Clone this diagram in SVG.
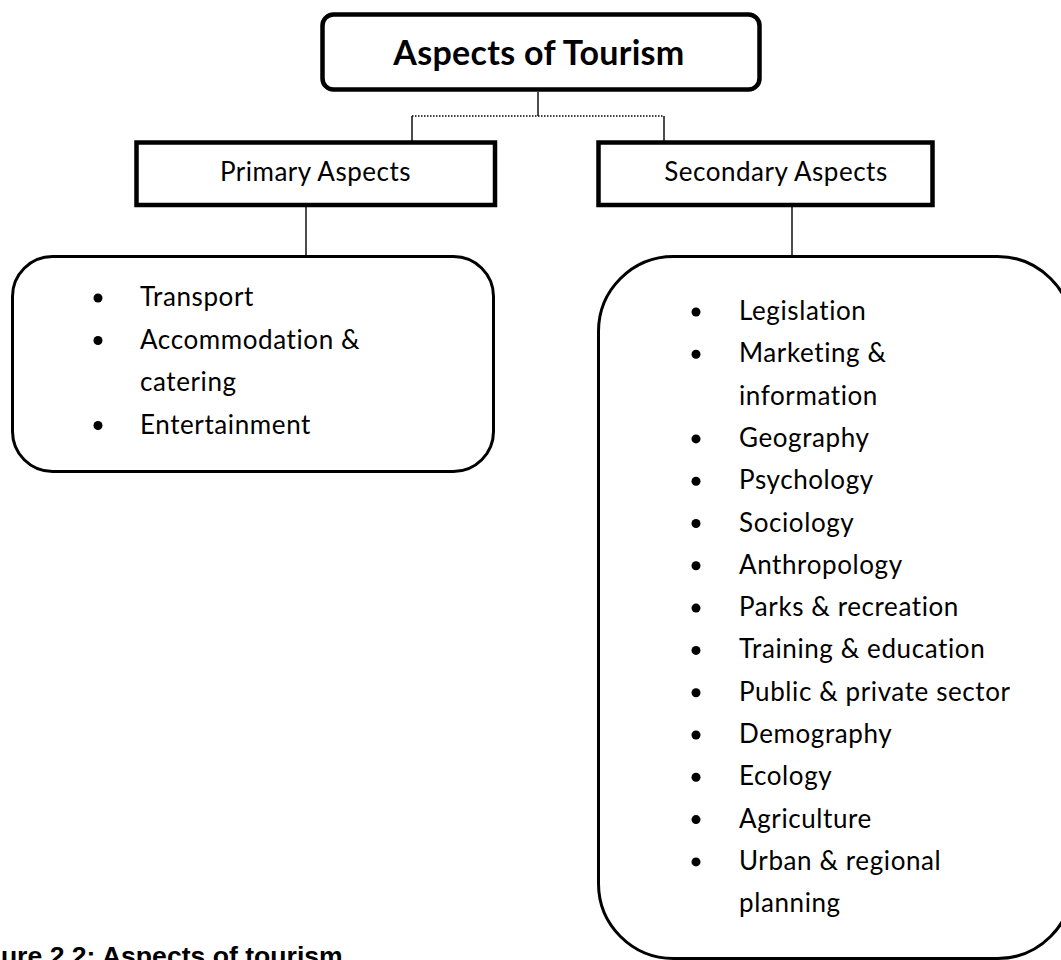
<svg xmlns="http://www.w3.org/2000/svg" width="1061" height="960" viewBox="0 0 1061 960">
<style>
.t{font-family:Lato,"Open Sans","Liberation Sans",sans-serif;fill:#000;font-variant-ligatures:none}
.li{font-size:26px;letter-spacing:0.6px}
.hd{font-size:26px;letter-spacing:0.5px;text-anchor:middle}
.box{fill:#fff;stroke:#000;stroke-width:4.5}
.lst{fill:#fff;stroke:#000;stroke-width:3}
.con{stroke:#000;stroke-width:1.4;fill:none}
.dot{stroke:#000;stroke-width:1.4;fill:none;stroke-dasharray:1.5 1.5}
.cap{font-family:"Liberation Sans",Arial,sans-serif;font-weight:bold;font-size:26.6px;fill:#000}
</style>
<defs><circle id="b" r="4.5" fill="#000"/></defs>
<rect width="1061" height="960" fill="#fff"/>
<g id="connectors">
<line class="con" x1="538" y1="92" x2="538" y2="116"/>
<line class="dot" x1="412" y1="116" x2="664" y2="116"/>
<line class="con" x1="412" y1="116" x2="412" y2="141"/>
<line class="con" x1="664" y1="116" x2="664" y2="141"/>
<line class="con" x1="306" y1="207" x2="306" y2="256"/>
<line class="con" x1="792" y1="207" x2="792" y2="256"/>
</g>
<g id="title">
<rect class="box" x="322.5" y="14.5" width="437" height="75" rx="11"/>
<text class="t" x="539" y="65" font-size="34" font-weight="bold" letter-spacing="0.3" text-anchor="middle">Aspects of Tourism</text>
</g>
<g id="primary">
<rect class="box" x="136.5" y="142.5" width="358.5" height="62.5"/>
<text class="t hd" x="315.5" y="181">Primary Aspects</text>
</g>
<g id="secondary">
<rect class="box" x="598.5" y="142.5" width="334" height="62.5"/>
<text class="t hd" x="776" y="181">Secondary Aspects</text>
</g>
<g id="primary-list">
<rect class="lst" x="12.5" y="256.5" width="481" height="215" rx="40"/>
<use href="#b" x="98" y="298"/>
<use href="#b" x="98" y="340.5"/>
<use href="#b" x="98" y="425.5"/>
<text class="t li" x="140" y="306">Transport</text>
<text class="t li" x="140" y="348.5">Accommodation &amp;</text>
<text class="t li" x="140" y="391">catering</text>
<text class="t li" x="140" y="433.5">Entertainment</text>
</g>
<g id="secondary-list">
<rect class="lst" x="598.5" y="256.5" width="474" height="702" rx="75"/>
<g>
<use href="#b" x="696" y="312"/>
<use href="#b" x="696" y="354.3"/>
<use href="#b" x="696" y="438.9"/>
<use href="#b" x="696" y="481.2"/>
<use href="#b" x="696" y="523.5"/>
<use href="#b" x="696" y="565.8"/>
<use href="#b" x="696" y="608.1"/>
<use href="#b" x="696" y="650.4"/>
<use href="#b" x="696" y="692.7"/>
<use href="#b" x="696" y="735"/>
<use href="#b" x="696" y="777.3"/>
<use href="#b" x="696" y="819.6"/>
<use href="#b" x="696" y="861.9"/>
</g>
<text class="t li" x="739" y="320">Legislation</text>
<text class="t li" x="739" y="362.3">Marketing &amp;</text>
<text class="t li" x="739" y="404.6">information</text>
<text class="t li" x="739" y="446.9">Geography</text>
<text class="t li" x="739" y="489.2">Psychology</text>
<text class="t li" x="739" y="531.5">Sociology</text>
<text class="t li" x="739" y="573.8">Anthropology</text>
<text class="t li" x="739" y="616.1">Parks &amp; recreation</text>
<text class="t li" x="739" y="658.4">Training &amp; education</text>
<text class="t li" x="739" y="700.7">Public &amp; private sector</text>
<text class="t li" x="739" y="743">Demography</text>
<text class="t li" x="739" y="785.3">Ecology</text>
<text class="t li" x="739" y="827.6">Agriculture</text>
<text class="t li" x="739" y="869.9">Urban &amp; regional</text>
<text class="t li" x="739" y="912.2">planning</text>
</g>
<text id="caption" class="cap" x="-39" y="965">Figure 2.2: Aspects of tourism</text>
</svg>
